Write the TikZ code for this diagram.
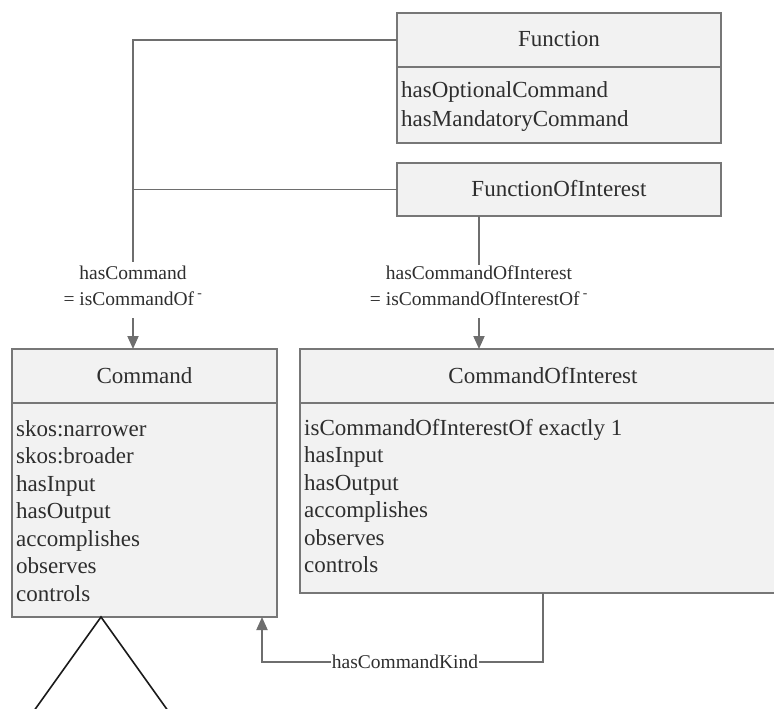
\documentclass[tikz,border=0pt]{standalone}
\usepackage{fontspec}
\setmainfont{Liberation Serif}
\usetikzlibrary{arrows.meta,calc}
\definecolor{boxfill}{HTML}{F2F2F2}
\definecolor{boxdraw}{HTML}{777777}
\definecolor{linkcol}{HTML}{6E6E6E}
\definecolor{ink}{HTML}{2E2E2E}

\begin{document}
\begin{tikzpicture}[x=1pt,y=-1pt,
  compart/.style={rectangle, draw=boxdraw, fill=boxfill, line width=2pt,
    inner sep=0pt, outer sep=0pt},
  title/.style={text=ink, font=\fontsize{23}{27}\selectfont, anchor=base, inner sep=0pt},
  item/.style={text=ink, font=\fontsize{23}{27}\selectfont, anchor=base west, inner sep=0pt},
  lbl/.style={text=ink, font=\fontsize{19.5}{24}\selectfont, anchor=base, inner sep=0pt},
  link/.style={draw=linkcol, line width=1.9pt},
  arr/.style={link, -{Triangle[length=13pt,width=11pt]}},
]
\useasboundingbox (0,0) rectangle (774,709);
\clip (0,0) rectangle (774,709);

% class Function
\node[compart, minimum width=324, minimum height=54] (fnh) at (559,40) {};
\node[compart, minimum width=324, minimum height=76] (fnb) at (559,105) {};
\node[title] (fnt) at ($(fnh.center)+(0,7)$) {Function};
\foreach \t [count=\i from 0] in {hasOptionalCommand, hasMandatoryCommand}
  \node[item] (fni\i) at ($(fnb.north west)+(4,31+\i*28)$) {\t};

% class FunctionOfInterest
\node[compart, minimum width=324, minimum height=53] (foi) at (559,189.5) {};
\node[title] (foit) at ($(foi.center)+(0,7)$) {FunctionOfInterest};

% class Command
\node[compart, minimum width=265, minimum height=54] (cmdh) at (144.5,376) {};
\node[compart, minimum width=265, minimum height=214] (cmdb) at (144.5,510) {};
\node[title] (cmdt) at ($(cmdh.center)+(0,7)$) {Command};
\foreach \t [count=\i from 0] in {skos:narrower, skos:broader, hasInput, hasOutput,
    accomplishes, observes, controls}
  \node[item] (cmdi\i) at ($(cmdb.north west)+(4,33+\i*27.5)$) {\t};

% class CommandOfInterest
\node[compart, minimum width=486, minimum height=54] (coih) at (543,376) {};
\node[compart, minimum width=486, minimum height=190] (coib) at (543,498) {};
\node[title] (coit) at ($(coih.center)+(0,7)$) {CommandOfInterest};
\foreach \t [count=\i from 0] in {isCommandOfInterestOf exactly 1, hasInput, hasOutput,
    accomplishes, observes, controls}
  \node[item] (coii\i) at ($(coib.north west)+(4,32+\i*27.5)$) {\t};

% hasCommand
\coordinate (jA) at (133,262);
\coordinate (sA) at (133,318);
\draw[link] (fnh.west) -| (jA);
\draw[link] (foi.west) -- (foi.west -| jA);
\node[lbl] (lA1) at (133,279) {hasCommand};
\node[lbl] (lA2) at (133,305) {= isCommandOf\,\textsuperscript{-}};
\draw[arr] (sA) -- (sA |- cmdh.north);

% hasCommandOfInterest
\coordinate (jB) at (479,265);
\coordinate (sB) at (479,318);
\draw[link] (jB |- foi.south) -- (jB);
\node[lbl] (lB1) at (479,279) {hasCommandOfInterest};
\node[lbl] (lB2) at (479,305) {= isCommandOfInterestOf\,\textsuperscript{-}};
\draw[arr] (sB) -- (sB |- coih.north);

% hasCommandKind
\node[lbl, anchor=center, fill=white, inner xsep=1pt] (kind) at (405,662) {hasCommandKind};
\coordinate (kEnd) at ([xshift=-15pt]cmdb.south east);
\draw[link] (coib.south) |- (kind.east);
\draw[arr] (kind.west) -| (kEnd);

% subclass triangle below Command
\coordinate (apex) at ([xshift=89pt]cmdb.south west);
\draw[black!90, line width=1.6pt] ($(apex)+(-80,112)$) -- (apex) -- ($(apex)+(80,112)$);
\end{tikzpicture}
\end{document}
